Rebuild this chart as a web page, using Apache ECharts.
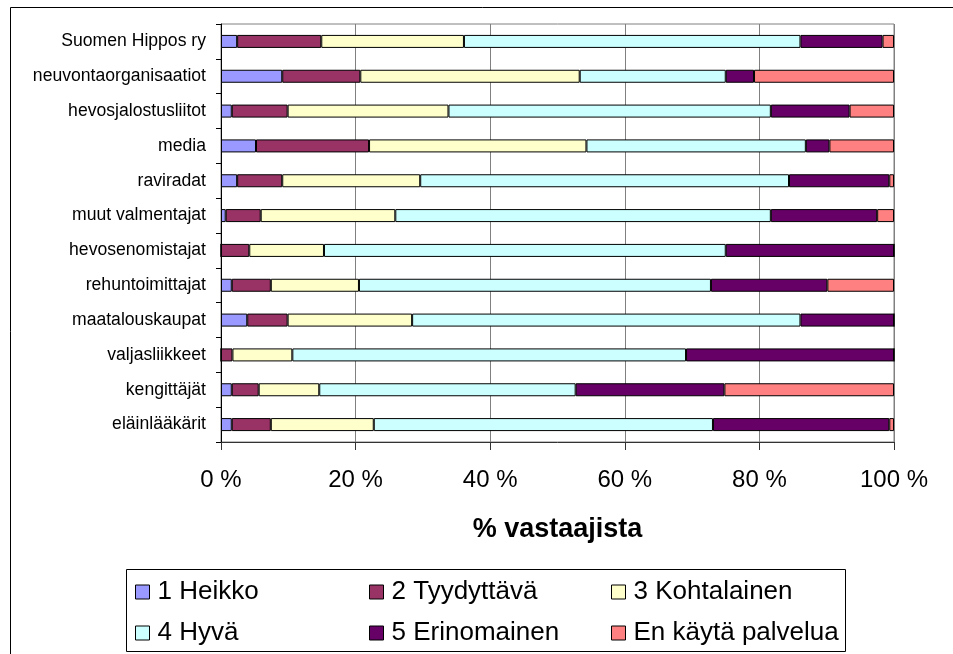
<!DOCTYPE html>
<html>
<head>
<meta charset="utf-8">
<script src="https://cdn.jsdelivr.net/npm/echarts@6/dist/echarts.min.js"></script>
<style>
html,body{margin:0;padding:0;background:#fff;}
#chart{width:953px;height:654px;}
</style>
</head>
<body>
<div id="chart"></div>
<script>
const categories = ["Suomen Hippos ry","neuvontaorganisaatiot","hevosjalostusliitot","media","raviradat","muut valmentajat","hevosenomistajat","rehuntoimittajat","maatalouskaupat","valjasliikkeet","kengittäjät","eläinlääkärit"];
const seriesNames = ["1 Heikko","2 Tyydyttävä","3 Kohtalainen","4 Hyvä","5 Erinomainen","En käytä palvelua"];
const heikko       = [2.4, 9.1, 1.6, 5.2, 2.4, 0.7, 0.0, 1.6, 3.9, 0.0, 1.6, 1.6];
const tyydyttava   = [12.5, 11.6, 8.3, 16.8, 6.7, 5.2, 4.2, 5.8, 6.0, 1.7, 4.0, 5.8];
const kohtalainen  = [21.2, 32.6, 23.9, 32.3, 20.5, 20.0, 11.1, 13.1, 18.5, 8.9, 9.0, 15.3];
const hyva         = [50.0, 21.7, 47.9, 32.6, 54.8, 55.8, 59.7, 52.3, 57.7, 58.5, 38.1, 50.4];
const erinomainen  = [12.2, 4.2, 11.7, 3.5, 14.9, 15.8, 25.0, 17.3, 13.9, 30.9, 22.1, 26.2];
const enKayta      = [1.7, 20.8, 6.6, 9.6, 0.7, 2.5, 0.0, 9.9, 0.0, 0.0, 25.2, 0.7];
const xTicks = [0, 20, 40, 60, 80, 100];

const values = [heikko, tyydyttava, kohtalainen, hyva, erinomainen, enKayta];
const colors = ["#9999FF","#993366","#FFFFCC","#CCFFFF","#660066","#FF8080"];
const FONT = "Liberation Sans, Arial, sans-serif";

const chart = echarts.init(document.getElementById('chart'));
const series = seriesNames.map((n, i) => ({
  name: n, type: 'bar', stack: 'all', barWidth: 13,
  data: values[i],
  itemStyle: {color: colors[i], borderColor: '#000', borderWidth: 1},
  emphasis: {disabled: true}
}));

const legendCommon = {
  orient: 'vertical', itemWidth: 14, itemHeight: 14, itemGap: 15, icon: 'rect',
  textStyle: {fontFamily: FONT, fontSize: 26, color: '#000', padding: [0,0,0,3]},
  itemStyle: {borderColor: '#000', borderWidth: 1},
  top: 579, padding: 0
};

chart.setOption({
  animation: false,
  textStyle: {fontFamily: FONT},
  graphic: [
    {type: 'rect', shape: {x: 10.5, y: 7.5, width: 1000, height: 1000}, style: {fill: 'none', stroke: '#000', lineWidth: 1}, z: -1},
    {type: 'rect', shape: {x: 126.5, y: 569.5, width: 719, height: 82}, style: {fill: '#fff', stroke: '#000', lineWidth: 1}, z: 0}
  ],
  legend: [
    Object.assign({}, legendCommon, {left: 135, data: [seriesNames[0], seriesNames[3]]}),
    Object.assign({}, legendCommon, {left: 369, data: [seriesNames[1], seriesNames[4]]}),
    Object.assign({}, legendCommon, {left: 611, data: [seriesNames[2], seriesNames[5]]})
  ],
  grid: {left: 221, right: 59, top: 24, bottom: 212, show: true, borderColor: '#808080', borderWidth: 1, containLabel: false},
  xAxis: {
    type: 'value', min: xTicks[0], max: xTicks[xTicks.length-1], interval: 20,
    axisLine: {show: true, lineStyle: {color: '#333', width: 1}},
    axisTick: {show: true, length: 8, lineStyle: {color: '#333'}},
    splitLine: {show: true, lineStyle: {color: '#808080', width: 1}},
    axisLabel: {formatter: '{value} %', fontSize: 24, color: '#000', margin: 26, fontFamily: FONT},
    name: '% vastaajista', nameLocation: 'middle', nameGap: 74,
    nameTextStyle: {fontSize: 27, fontWeight: 'bold', color: '#000', fontFamily: FONT}
  },
  yAxis: {
    type: 'category', data: categories, inverse: true,
    axisLine: {show: true, lineStyle: {color: '#000', width: 1}},
    axisTick: {show: true, length: 5, lineStyle: {color: '#000'}},
    axisLabel: {fontSize: 17.6, color: '#000', margin: 15, fontFamily: FONT},
    splitLine: {show: false}
  },
  series: series
});
</script>
</body>
</html>
